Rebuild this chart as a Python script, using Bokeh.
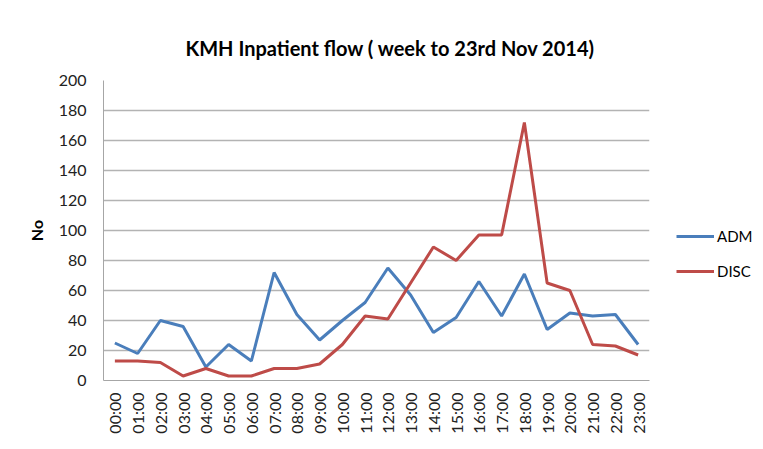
import numpy as np
from bokeh.plotting import figure
from bokeh.layouts import row
from bokeh.models import Range1d, FactorRange, Legend, LegendItem, FixedTicker
from bokeh.embed import file_html
from bokeh.resources import INLINE

hours = ["00:00", "01:00", "02:00", "03:00", "04:00", "05:00", "06:00", "07:00",
         "08:00", "09:00", "10:00", "11:00", "12:00", "13:00", "14:00", "15:00",
         "16:00", "17:00", "18:00", "19:00", "20:00", "21:00", "22:00", "23:00"]
adm = [25, 18, 40, 36, 9, 24, 13, 72, 44, 27, 40, 52, 75, 57, 32, 42,
       66, 43, 71, 34, 45, 43, 44, 24]
disc = [13, 13, 12, 3, 8, 3, 3, 8, 8, 11, 24, 43, 41, 65, 89, 80,
        97, 97, 172, 65, 60, 24, 23, 17]
y_ticks = [0, 20, 40, 60, 80, 100, 120, 140, 160, 180, 200]
series_names = ["ADM", "DISC"]
series_colors = ["#4A7EBB", "#BE4B48"]

FONT = "Lato"

p = figure(width=655, height=446, x_range=FactorRange(*hours), y_range=Range1d(0, 200),
           output_backend="svg", toolbar_location=None,
           min_border_left=103, min_border_right=6, min_border_top=80, min_border_bottom=66)

p.title.text = "KMH Inpatient flow ( week to 23rd Nov 2014)"
p.title.align = "left"
p.title.text_font = FONT
p.title.text_font_size = "20px"
p.title.text_font_style = "bold"
p.title.text_color = "#000000"
p.title.offset = 82
p.title.standoff = 42

p.outline_line_color = None
p.background_fill_color = "white"
p.border_fill_color = "white"

p.xgrid.grid_line_color = None
p.ygrid.grid_line_color = "#B3B3B3"
p.ygrid.grid_line_width = 1.3

p.yaxis.ticker = FixedTicker(ticks=y_ticks)
p.yaxis.axis_line_color = "#A6A6A6"
p.yaxis.major_tick_line_color = None
p.yaxis.minor_tick_line_color = None
p.yaxis.major_tick_out = 0
p.yaxis.minor_tick_out = 0
p.yaxis.major_label_text_font = FONT
p.yaxis.major_label_text_font_size = "16px"
p.yaxis.major_label_text_color = "#222222"
p.yaxis.major_label_standoff = 17
p.yaxis.axis_label = "No"
p.yaxis.axis_label_text_font = FONT
p.yaxis.axis_label_text_font_size = "16px"
p.yaxis.axis_label_text_font_style = "bold"
p.yaxis.axis_label_text_color = "#000000"
p.yaxis.axis_label_standoff = 10

p.xaxis.axis_line_color = "#A6A6A6"
p.xaxis.major_tick_line_color = None
p.xaxis.minor_tick_line_color = None
p.xaxis.major_tick_out = 0
p.xaxis.minor_tick_out = 0
p.xaxis.major_label_orientation = np.pi / 2
p.xaxis.major_label_text_font = FONT
p.xaxis.major_label_text_font_size = "16px"
p.xaxis.major_label_text_color = "#222222"
p.xaxis.major_label_standoff = 12

r1 = p.line(hours, adm, line_color=series_colors[0], line_width=3)
r2 = p.line(hours, disc, line_color=series_colors[1], line_width=3)

# legend panel to the right of the plot area (placeholder renderers draw nothing)
lp = figure(width=105, height=446, x_range=Range1d(0, 1), y_range=Range1d(0, 1),
            output_backend="svg", toolbar_location=None,
            min_border_left=0, min_border_right=0, min_border_top=0, min_border_bottom=0)
lp.axis.visible = False
lp.grid.visible = False
lp.outline_line_color = None
lp.border_fill_color = "white"
lp.background_fill_color = "white"
lr = [lp.line(x=[np.nan], y=[np.nan], line_color=c, line_width=3) for c in series_colors]

legend = Legend(items=[LegendItem(label=n, renderers=[r]) for n, r in zip(series_names, lr)],
                location=(21, 99), orientation="vertical")
legend.border_line_color = None
legend.background_fill_alpha = 0
legend.label_text_font = FONT
legend.label_text_font_size = "15px"
legend.label_text_color = "#000000"
legend.glyph_width = 38
legend.glyph_height = 20
legend.spacing = 15
legend.label_standoff = 3
legend.padding = 0
legend.margin = 0
lp.add_layout(legend, "center")

layout = row(p, lp)
open("out.html", "w").write(file_html(layout, INLINE))
